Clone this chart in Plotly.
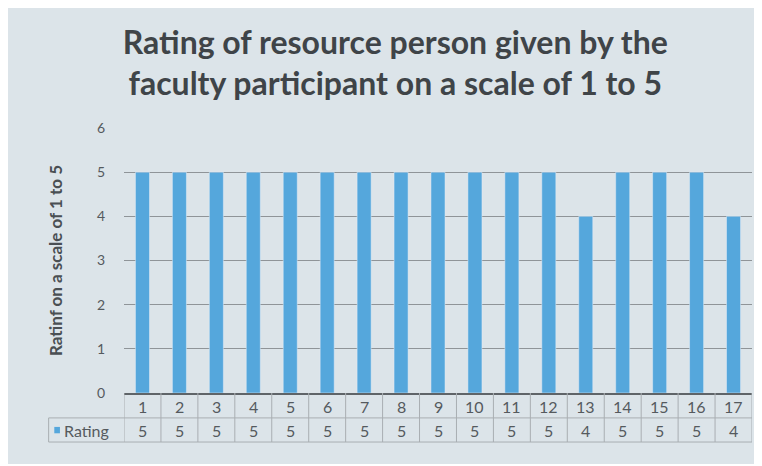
import plotly.graph_objects as go

participants = list(range(1, 18))
ratings = [5, 5, 5, 5, 5, 5, 5, 5, 5, 5, 5, 5, 4, 5, 5, 5, 4]
series_name = "Rating"
y_ticks = [0, 1, 2, 3, 4, 5, 6]

_BG = "#dce4e9"
_BAR = "#55a7dc"
_LINE = "#8f9498"
_CELL = "#a9aeb2"
_TEXT = "#555a5e"

fig = go.Figure(
    go.Bar(
        x=participants,
        y=ratings,
        name=series_name,
        marker_color=_BAR,
        width=0.38,
    )
)

# data table under the axis: category row and value row
row_cat, row_val = -0.05, -0.14
row_top, row_mid, row_bot = 0.0, -0.094, -0.185
left_edge = -0.12
annotations = []
shapes = []
for p, r in zip(participants, ratings):
    annotations.append(dict(x=p, y=row_cat, xref="x", yref="paper", text=str(p),
                            yanchor="middle", showarrow=False,
                            font=dict(size=16, color=_TEXT)))
    annotations.append(dict(x=p, y=row_val, xref="x", yref="paper", text=str(r),
                            yanchor="middle", showarrow=False,
                            font=dict(size=16, color=_TEXT)))
    shapes.append(dict(type="line", xref="x", yref="paper", x0=p - 0.5, x1=p - 0.5,
                       y0=row_top, y1=row_bot, line=dict(color=_CELL, width=1)))
last = participants[-1]
shapes.append(dict(type="line", xref="x", yref="paper", x0=last + 0.5, x1=last + 0.5,
                   y0=row_top, y1=row_bot, line=dict(color=_CELL, width=1)))
for yy in (row_mid, row_bot):
    shapes.append(dict(type="line", xref="paper", yref="paper", x0=left_edge, x1=1,
                       y0=yy, y1=yy, line=dict(color=_CELL, width=1)))
shapes.append(dict(type="line", xref="paper", yref="paper", x0=left_edge, x1=left_edge,
                   y0=row_mid, y1=row_bot, line=dict(color=_CELL, width=1)))
# legend key + series name in the table
shapes.append(dict(type="rect", xref="paper", yref="paper", x0=-0.111, x1=-0.102,
                   y0=row_val - 0.012, y1=row_val + 0.012, fillcolor=_BAR, line_width=0))
annotations.append(dict(x=-0.099, y=row_val, xref="paper", yref="paper", text=series_name,
                        xanchor="left", yanchor="middle", showarrow=False,
                        font=dict(size=16, color=_TEXT)))

fig.update_layout(
    width=752,
    height=456,
    margin=dict(l=116, r=8, t=120, b=71),
    paper_bgcolor=_BG,
    plot_bgcolor=_BG,
    font=dict(family="Lato, sans-serif", color=_TEXT),
    showlegend=False,
    title=dict(
        text="Rating of resource person given by the<br>faculty participant on a scale of 1 to 5",
        x=0.515,
        xanchor="center",
        y=0.9,
        yanchor="middle",
        font=dict(family="Lato, sans-serif", size=32, color="#3f4448", weight="bold"),
    ),
    xaxis=dict(
        range=[0.5, last + 0.5],
        showticklabels=False,
        showgrid=False,
        showline=True,
        linecolor="#5f6468",
        linewidth=2,
        ticks="",
        zeroline=False,
    ),
    yaxis=dict(
        range=[0, 6],
        tickvals=y_ticks,
        showgrid=True,
        gridcolor=_LINE,
        gridwidth=1,
        zeroline=False,
        ticks="",
        ticklabelstandoff=18,
        tickfont=dict(size=14, color=_TEXT),
        title=dict(
            text="Ratinf on a scale of 1 to 5",
            font=dict(size=17, color="#4a4f53", weight="bold"),
            standoff=29,
        ),
    ),
    annotations=annotations,
    shapes=shapes,
)

fig.write_html("out.html")
